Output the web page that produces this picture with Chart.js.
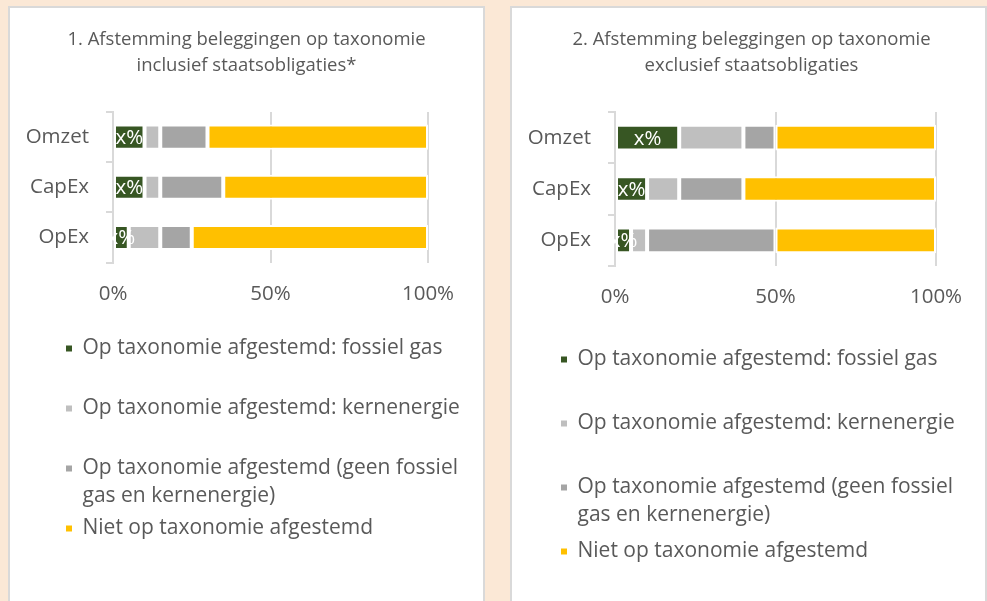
<!DOCTYPE html>
<html>
<head>
<meta charset="utf-8">
<script src="https://cdn.jsdelivr.net/npm/chart.js@4"></script>
<style>
  html, body { margin: 0; padding: 0; }
  body { width: 987px; height: 601px; overflow: hidden; background: #fbe8d6; position: relative; }
  .panel { position: absolute; top: 6px; width: 473px; height: 620px; background: #fff; border: 2px solid #d9d9d9; }
  #p1 { left: 8px; }
  #p2 { left: 510px; }
  .panel canvas { position: absolute; left: 0; top: 0; }
</style>
</head>
<body>
<div class="panel" id="p1"><canvas id="c1" width="473" height="541"></canvas></div>
<div class="panel" id="p2"><canvas id="c2" width="473" height="564"></canvas></div>
<script>
// categorieen en reeksen
const categories = ['Omzet', 'CapEx', 'OpEx'];
const seriesLabels = [
  'Op taxonomie afgestemd: fossiel gas',
  'Op taxonomie afgestemd: kernenergie',
  ['Op taxonomie afgestemd (geen fossiel', 'gas en kernenergie)'],
  'Niet op taxonomie afgestemd'
];
const seriesColors = ['#375623', '#bfbfbf', '#a5a5a5', '#ffc000'];
const xTickValues = [0, 50, 100];
const greenLabel = 'x%';

// 1. inclusief staatsobligaties
const title1 = ['1. Afstemming beleggingen op taxonomie', 'inclusief staatsobligaties*'];
const fossielGas1 = [10, 10, 5];
const kernenergie1 = [5, 5, 10];
const overig1 = [15, 20, 10];
const nietAfgestemd1 = [70, 65, 75];

// 2. exclusief staatsobligaties
const title2 = ['2. Afstemming beleggingen op taxonomie', 'exclusief staatsobligaties'];
const fossielGas2 = [20, 10, 5];
const kernenergie2 = [20, 10, 5];
const overig2 = [10, 20, 40];
const nietAfgestemd2 = [50, 60, 50];

const textColor = '#595959';
const lineColor = '#d9d9d9';
const fontFamily = "'Open Sans', sans-serif";
const labelSize = 20.5;
const legendSize = 21;

// witte "x%" labels op het groene segment
const greenLabelPlugin = {
  id: 'greenLabel',
  afterDatasetsDraw(chart) {
    const ctx = chart.ctx;
    const meta = chart.getDatasetMeta(0);
    ctx.save();
    ctx.fillStyle = '#fff';
    ctx.font = labelSize + 'px ' + fontFamily;
    ctx.textAlign = 'center';
    ctx.textBaseline = 'middle';
    meta.data.forEach(bar => {
      const { x, base, y } = bar.getProps(['x', 'base', 'y'], true);
      ctx.fillText(greenLabel, (x + base) / 2, y + 1);
    });
    ctx.restore();
  }
};

function makeChart(canvasId, title, values, cfg) {
  const datasets = values.map((data, i) => ({
    label: seriesLabels[i],
    data: data,
    backgroundColor: seriesColors[i],
    borderColor: '#fff',
    borderWidth: 2,
    borderSkipped: false,
    barPercentage: 0.5,
    categoryPercentage: 1
  }));

  return new Chart(document.getElementById(canvasId), {
    type: 'bar',
    data: { labels: categories, datasets },
    plugins: [greenLabelPlugin],
    options: {
      indexAxis: 'y',
      responsive: false,
      animation: false,
      events: [],
      layout: { padding: { left: cfg.left, right: cfg.right, top: 0, bottom: 0 } },
      scales: {
        x: {
          stacked: true,
          min: 0,
          max: 100,
          afterBuildTicks: s => { s.ticks = xTickValues.map(v => ({ value: v })); },
          afterFit: s => { s.height = cfg.xHeight; },
          ticks: {
            // mirror: labels worden niet op de ashoogte afgeknipt, negatieve padding zet ze onder de as
            mirror: true,
            padding: cfg.xPad,
            color: textColor,
            font: { family: fontFamily, size: labelSize },
            callback: v => v + '%'
          },
          grid: { color: lineColor, lineWidth: 2, drawTicks: false },
          border: { display: false }
        },
        y: {
          stacked: true,
          afterFit: s => { s.width = cfg.yWidth; },
          ticks: {
            padding: 17,
            color: textColor,
            font: { family: fontFamily, size: labelSize }
          },
          grid: { drawOnChartArea: false, tickLength: 7, color: lineColor, lineWidth: 2, offset: true },
          border: { color: lineColor, width: 2 }
        },
        rechts: {
          type: 'linear',
          position: 'right',
          grid: { display: false },
          border: { display: false },
          ticks: { display: false },
          afterFit: s => { s.width = cfg.rightGap; }
        }
      },
      plugins: {
        title: {
          display: true,
          text: title,
          color: textColor,
          font: { family: fontFamily, size: 18.5, weight: 'normal', lineHeight: '26px' },
          padding: { top: 19, bottom: 33 }
        },
        legend: {
          position: 'bottom',
          align: 'start',
          labels: {
            color: textColor,
            font: { family: fontFamily, size: legendSize, lineHeight: '28px' },
            boxWidth: 6,
            boxHeight: 6,
            padding: cfg.legendPad,
            generateLabels: chart => Chart.defaults.plugins.legend.labels.generateLabels(chart)
              .map(item => Object.assign(item, { lineWidth: 0, strokeStyle: item.fillStyle }))
          }
        },
        tooltip: { enabled: false }
      }
    }
  });
}

makeChart('c1', title1, [fossielGas1, kernenergie1, overig1, nietAfgestemd1],
  { left: 17, right: 17, yWidth: 86, rightGap: 38, xHeight: 36.5, xPad: -44.3, legendPad: 39 });
makeChart('c2', title2, [fossielGas2, kernenergie2, overig2, nietAfgestemd2],
  { left: 6, right: 0, yWidth: 97, rightGap: 49, xHeight: 40, xPad: -43.3, legendPad: 43 });
</script>
</body>
</html>
